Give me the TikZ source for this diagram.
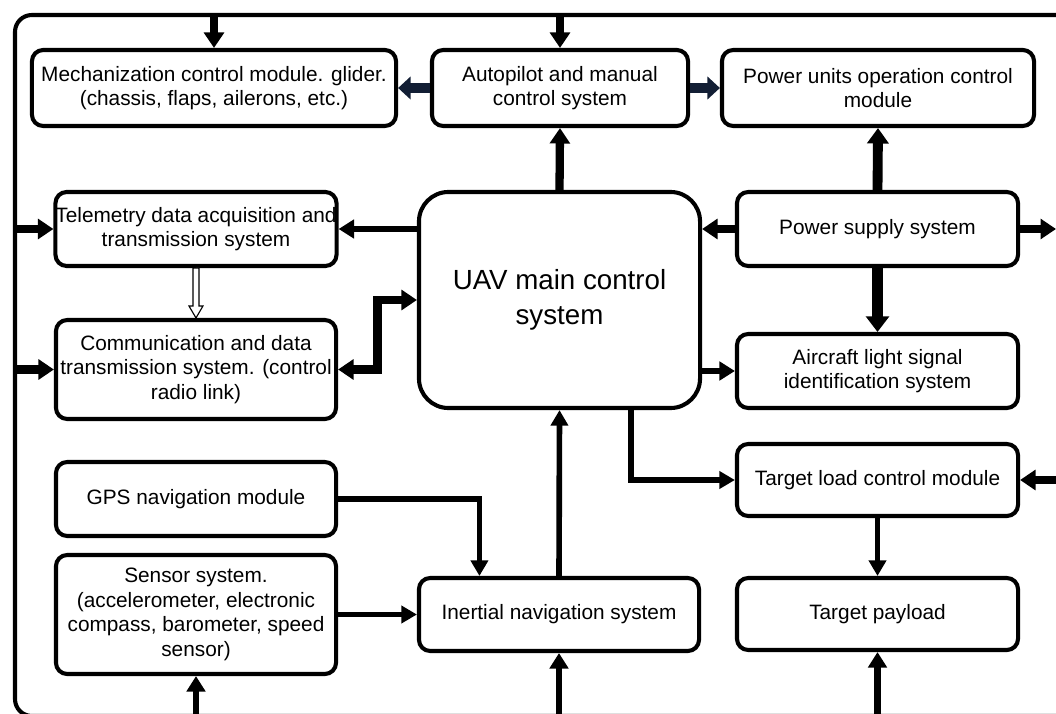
\documentclass[tikz,border=0pt]{standalone}
\usepackage{fontspec}
\setmainfont{Liberation Sans}
\usetikzlibrary{arrows.meta,calc}
\definecolor{navyblk}{RGB}{18,30,52}
\tikzset{
  blk/.style={draw,line width=2.9pt,rounded corners=8pt,align=center,inner sep=0pt,
    font=\fontsize{14.8}{17.4}\selectfont},
  fat/.style={line width=5.9pt,-{Triangle[length=11pt,width=14pt]}},
  med/.style={line width=4.8pt,-{Triangle[length=11pt,width=13pt]}},
  slim/.style={line width=4pt,-{Triangle[length=11pt,width=12pt]}},
}
\begin{document}
\begin{tikzpicture}[x=0.025cm,y=-0.025cm]
\useasboundingbox (0,0) rectangle (1056,714);
\clip (0,0) rectangle (1056,714);
% outer frame
\draw[line width=2.9pt,rounded corners=12pt] (15,15) rectangle (1090,716);
\coordinate (fN) at (0,15);
\coordinate (fW) at (15,0);
\coordinate (fS) at (0,716);
\coordinate (fE) at (1056,0);

\node[blk,minimum width=9.1cm,minimum height=1.9cm] (mech) at (214,88)
  {Mechanization control module. glider.\\(chassis, flaps, ailerons, etc.)};
\node[blk,minimum width=6.4cm,minimum height=1.9cm] (auto) at (560,88)
  {Autopilot and manual\\control system};
\node[blk,minimum width=7.8cm,minimum height=1.9cm] (punit) at (878,88)
  {Power units operation control\\module};
\node[blk,minimum width=7cm,minimum height=1.85cm] (tele) at (196,229)
  {Telemetry data acquisition and\\transmission system};
\node[blk,minimum width=7cm,minimum height=2.475cm] (comm) at (196,369.5)
  {Communication and data\\transmission system. (control\\radio link)};
\node[blk,minimum width=7cm,minimum height=1.85cm] (gps) at (196,499)
  {GPS navigation module};
\node[blk,minimum width=7cm,minimum height=2.975cm] (sens) at (196,614.5)
  {Sensor system.\\(accelerometer, electronic\\compass, barometer, speed\\sensor)};
\node[blk,minimum width=7.025cm,minimum height=5.4cm,rounded corners=21pt,
  font=\fontsize{19.7}{24.8}\selectfont] (main) at (559.5,300)
  {UAV main control\\system};
\node[blk,minimum width=7.025cm,minimum height=1.85cm] (psup) at (877.5,229)
  {Power supply system};
\node[blk,minimum width=7.025cm,minimum height=1.85cm] (light) at (877.5,371)
  {Aircraft light signal\\identification system};
\node[blk,minimum width=7.025cm,minimum height=1.8cm] (tload) at (877.5,480)
  {Target load control module};
\node[blk,minimum width=7.025cm,minimum height=1.8cm] (tpay) at (877.5,614)
  {Target payload};
\node[blk,minimum width=7cm,minimum height=1.825cm] (inert) at (559,614.5)
  {Inertial navigation system};

% from the frame
\draw[fat] (mech.north |- fN)--(mech.north);
\draw[fat] (auto.north |- fN)--(auto.north);
\draw[fat] (fW |- tele.west)--(tele.west);
\draw[fat] (fW |- comm.west)--(comm.west);
\draw[med] (sens.south |- fS)--(sens.south);
\draw[med] (inert.south |- fS)--(inert.south);
\draw[med] (tpay.south |- fS)--(tpay.south);
\draw[fat] (fE |- tload.east)--(tload.east);
\draw[fat] (psup.east)--(fE |- psup.east);

% top row
\draw[navyblk,line width=7pt,-{Triangle[length=9pt,width=16pt]}] (auto.west)--(mech.east);
\draw[navyblk,line width=7pt,-{Triangle[length=9pt,width=16pt]}] (auto.east)--(punit.west);
\draw[fat] (main.north)--(auto.south);
\draw[line width=7pt,-{Triangle[length=11pt,width=15pt]}] (psup.north)--(punit.south);

% left side
\draw[med] (main.west |- tele.east)--(tele.east);
\draw[fat,{Triangle[length=11pt,width=14pt]}-{Triangle[length=11pt,width=14pt]}]
  (comm.east) -| ($(comm.east)!.5!(main.west)$) |- (main.west);
\draw[line width=.8pt,fill=white] (tele.south) ++(-3,0) -- ++(0,38) -- ++(-4,0)
  -- (comm.north) -- ++(7,-12) -- ++(-4,0) -- ++(0,-38) -- cycle;

% right side
\draw[fat] (psup.west)--(main.east |- psup.west);
\draw[line width=8.5pt,-{Triangle[length=11pt,width=16pt]}] (psup.south)--(light.north);
\draw[med] (main.east |- light.west)--(light.west);
\draw[slim] ($(main.south)!.5!(main.south east)$) |- (tload.west);
\draw[slim] (tload.south)--(tpay.north);

% navigation
\draw[slim] (inert.north)--(main.south);
\draw[slim] (gps.east) -| ($(inert.north west)!.22!(inert.north east)$);
\draw[slim] (sens.east)--(inert.west);
\end{tikzpicture}
\end{document}
